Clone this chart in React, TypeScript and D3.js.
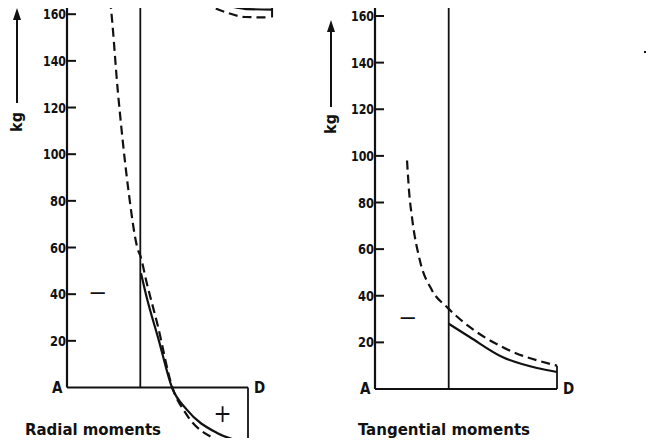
import React from 'react'
import * as d3 from 'd3'

// y ticks shared by both panels (kg)
const yTicks = [20, 40, 60, 80, 100, 120, 140, 160]

// position along the span A..D (0..1), the inner support line
const divider = 0.405

// Radial moments
const radialDashedX = [0.225, 0.2376, 0.282, 0.337, 0.392, 0.405, 0.44, 0.5, 0.58, 0.66, 0.83, 1.0]
const radialDashedY = [172, 166, 126, 86, 59, 56.5, 45, 27, 0.5, -11.5, -22.5, -26]
const radialSolidX = [0.409, 0.436, 0.508, 0.58, 0.663, 0.829, 1.0]
const radialSolidY = [49, 40, 20, 0, -9.6, -19.5, -23.8]

// piece of the panel above (cut off by the page)
const fragSolidX = [0.735, 0.779, 0.928, 1.0, 1.133]
const fragSolidY = [167.8, 166, 163, 162.2, 162]
const fragDashedX = [0.76, 0.79, 0.89, 0.983, 1.12]
const fragDashedY = [166, 164, 160.5, 158.8, 158.6]

// Tangential moments
const tangDashedX = [0.176, 0.187, 0.203, 0.247, 0.313, 0.401, 0.52, 0.7, 1.0]
const tangDashedY = [98, 85, 73.7, 55, 42.4, 34.7, 26.6, 18, 10]
const tangSolidX = [0.405, 0.52, 0.7, 0.89, 1.0]
const tangSolidY = [28, 22.3, 13.7, 9, 7.3]

const font = "'DejaVu Sans Condensed', 'Liberation Sans Narrow', sans-serif"

const zip = (xs: number[], ys: number[]) => xs.map((x, i) => [x, ys[i]] as [number, number])

const Panel = ({ x0, x1, y0, yTop, dashed, solid, title, titleX, titleW, minusPos, plus, axisTop, dEnd, arrowX, arrowTop, arrowBottom, kgY, extra }: any) => {
  const xScale = d3.scaleLinear().domain([0, 1]).range([x0, x1])
  const yScale = d3.scaleLinear().domain([0, 160]).range([y0, yTop])
  const line = d3.line<[number, number]>()
    .x(d => xScale(d[0]))
    .y(d => yScale(d[1]))
    .curve(d3.curveMonotoneX)
  const base = yScale(0)
  return (
    <g>
      {/* axis */}
      <line x1={x0} x2={x0} y1={axisTop} y2={base} stroke="#111" strokeWidth={2.2} />
      <line x1={x0} x2={x1} y1={base} y2={base} stroke="#111" strokeWidth={2} />
      <line x1={xScale(divider)} x2={xScale(divider)} y1={axisTop} y2={base} stroke="#111" strokeWidth={1.8} />
      <line x1={x1} x2={x1} y1={base} y2={yScale(dEnd)} stroke="#111" strokeWidth={1.8} />
      {yTicks.map(t => (
        <g key={t}>
          <line x1={x0} x2={x0 + 9} y1={yScale(t)} y2={yScale(t)} stroke="#111" strokeWidth={2} />
          <text x={x0 - 1} y={yScale(t)} dy="0.36em" textAnchor="end" fontFamily={font}
            fontWeight="bold" fontSize={14} textLength={t >= 100 ? 23 : 16} lengthAdjust="spacingAndGlyphs" fill="#111">{t}</text>
        </g>
      ))}
      <text x={x0 - 15} y={base} dy="0.36em" fontFamily={font} fontWeight="bold" fontSize={15} fill="#111">A</text>
      <text x={x1 + 6} y={base} dy="0.36em" fontFamily={font} fontWeight="bold" fontSize={15} fill="#111">D</text>
      {/* curves */}
      <path d={line(dashed) || ''} fill="none" stroke="#111" strokeWidth={2.2} strokeDasharray="9,5" />
      <path d={line(solid) || ''} fill="none" stroke="#111" strokeWidth={2.2} />
      {extra}
      {/* signs */}
      <text x={xScale(minusPos[0])} y={yScale(minusPos[1])} dy="0.36em" textAnchor="middle" fontFamily={font}
        fontSize={22} textLength={19} lengthAdjust="spacingAndGlyphs" fill="#111">−</text>
      {plus && (
        <text x={xScale(plus[0])} y={yScale(plus[1])} dy="0.36em" textAnchor="middle" fontFamily={font}
          fontSize={24} fill="#111">+</text>
      )}
      {/* kg arrow */}
      <line x1={arrowX} x2={arrowX} y1={arrowBottom} y2={arrowTop + 8} stroke="#111" strokeWidth={2} />
      <path d={`M${arrowX},${arrowTop} L${arrowX - 4},${arrowTop + 12} L${arrowX + 4},${arrowTop + 12} Z`} fill="#111" />
      <text transform={`translate(${arrowX + 5},${kgY}) rotate(-90)`} textAnchor="middle" fontFamily={font}
        fontWeight="bold" fontSize={16} fill="#111">kg</text>
      <text x={titleX} y={429} dy="0.36em" fontFamily={font} fontWeight="bold" fontSize={16}
        textLength={titleW} lengthAdjust="spacingAndGlyphs" fill="#111">{title}</text>
    </g>
  )
}

const App = () => {
  const fragScaleX = d3.scaleLinear().domain([0, 1]).range([67, 248])
  const fragScaleY = d3.scaleLinear().domain([0, 160]).range([387.5, 14.2])
  const fragLine = d3.line<[number, number]>()
    .x(d => fragScaleX(d[0]))
    .y(d => fragScaleY(d[1]))
    .curve(d3.curveMonotoneX)
  const fragment = (
    <g>
      <path d={fragLine(zip(fragSolidX, fragSolidY)) || ''} fill="none" stroke="#111" strokeWidth={2.2} />
      <path d={fragLine(zip(fragDashedX, fragDashedY)) || ''} fill="none" stroke="#111" strokeWidth={2.2} strokeDasharray="9,5" />
      <line x1={fragScaleX(1.133)} x2={fragScaleX(1.133)} y1={0} y2={fragScaleY(158.6)} stroke="#111" strokeWidth={2} />
    </g>
  )
  return (
    <div style={{ margin: -8 }}>
      <svg width={654} height={446} style={{ display: 'block', background: '#fff' }}>
        <Panel x0={67} x1={248} y0={387.5} yTop={14.2} axisTop={0} dEnd={-26}
          dashed={zip(radialDashedX, radialDashedY)} solid={zip(radialSolidX, radialSolidY)}
          title="Radial moments" titleX={25} titleW={136}
          minusPos={[0.17, 41]} plus={[0.86, -11]}
          arrowX={17} arrowTop={8} arrowBottom={103} kgY={122} extra={fragment} />
        <Panel x0={375} x1={557} y0={389} yTop={16} axisTop={0} dEnd={10}
          dashed={zip(tangDashedX, tangDashedY)} solid={zip(tangSolidX, tangSolidY)}
          title="Tangential moments" titleX={358} titleW={172}
          minusPos={[0.18, 31]} plus={null}
          arrowX={331} arrowTop={20} arrowBottom={107} kgY={124} />
        <line x1={644} x2={654} y1={52} y2={52} stroke="#111" strokeWidth={2} />
      </svg>
    </div>
  )
}

export default App
